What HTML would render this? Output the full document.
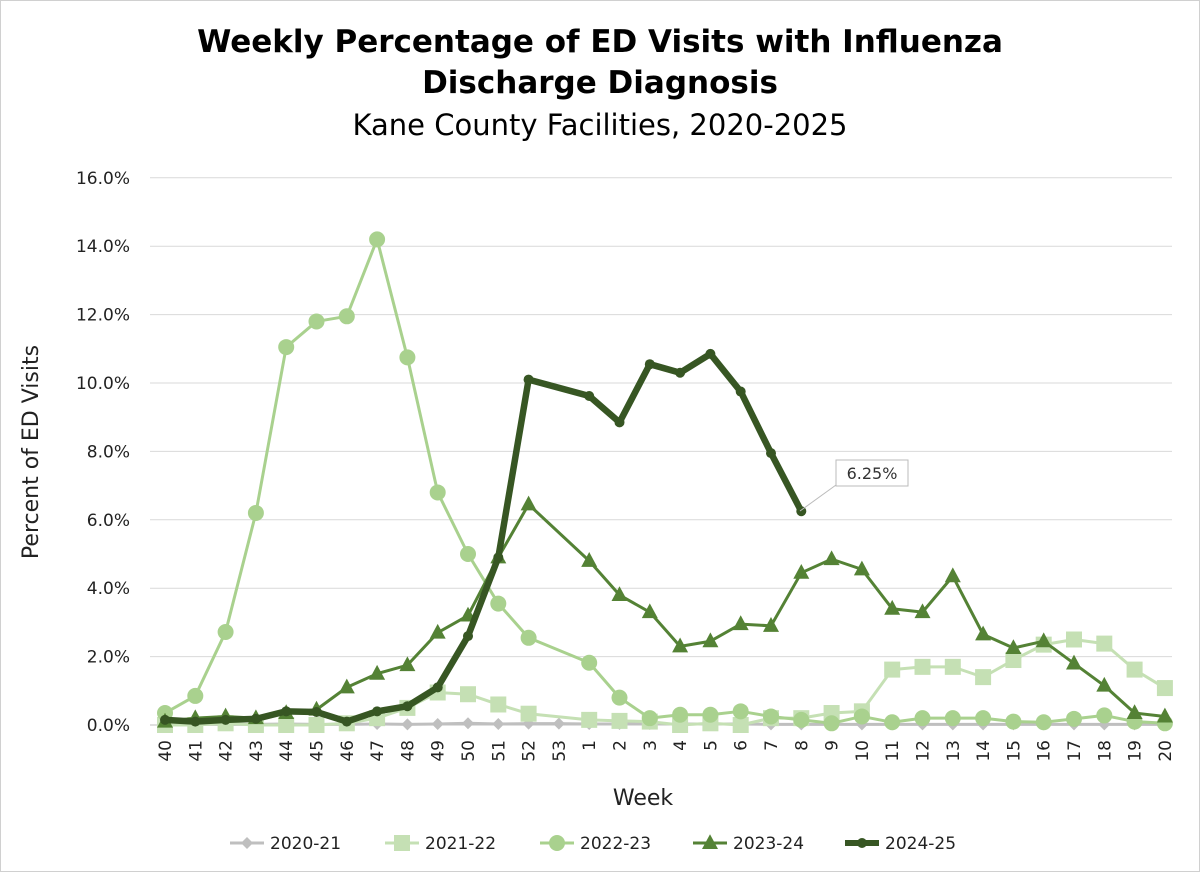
<!DOCTYPE html>
<html><head><meta charset="utf-8"><style>
html,body{margin:0;padding:0;background:#fff;}
svg{display:block;font-family:"DejaVu Sans","Liberation Sans",sans-serif;}
</style></head><body>
<svg id="chart" width="1200" height="872" viewBox="0 0 1200 872">
<rect x="0.5" y="0.5" width="1199" height="871" fill="#fff" stroke="#d0d0d0"/>
<text x="600" y="52" text-anchor="middle" font-size="31" font-weight="bold" fill="#000">Weekly Percentage of ED Visits with Influenza</text>
<text x="600" y="93" text-anchor="middle" font-size="31" font-weight="bold" fill="#000">Discharge Diagnosis</text>
<text x="600" y="135" text-anchor="middle" font-size="29" fill="#000">Kane County Facilities, 2020-2025</text>
<g id="grid"></g><g id="yticks"></g><g id="xticks"></g><g id="series"></g>
<text transform="translate(38,452) rotate(-90)" text-anchor="middle" font-size="22" fill="#222">Percent of ED Visits</text>
<text x="643" y="805" text-anchor="middle" font-size="22" fill="#222">Week</text>
<g id="legend"></g>
<g>
<line x1="800" y1="511" x2="836" y2="485" stroke="#bbb" stroke-width="1"/>
<rect x="836" y="460" width="72" height="26" fill="#fff" stroke="#bbb"/>
<text x="872" y="479" text-anchor="middle" font-size="16" fill="#333">6.25%</text>
</g>
</svg>
<script>
const categories=["40","41","42","43","44","45","46","47","48","49","50","51","52","53","1","2","3","4","5","6","7","8","9","10","11","12","13","14","15","16","17","18","19","20"];
const yTicks=[0,2,4,6,8,10,12,14,16];
const s2020=[0.02,0.02,0.02,0.02,0.03,0.02,0.02,0.03,0.02,0.03,0.05,0.03,0.04,0.04,0.03,0.03,0.03,0.03,0.03,0.03,0.02,0.02,0.02,0.02,0.02,0.02,0.02,0.02,0.02,0.02,0.02,0.02,0.02,0.02];
const s2021=[0.0,0.0,0.05,-0.05,-0.05,0.0,0.05,0.2,0.5,0.95,0.9,0.6,0.33,null,0.15,0.12,0.1,-0.05,0.05,-0.05,0.2,0.2,0.35,0.4,1.62,1.7,1.7,1.4,1.9,2.35,2.5,2.38,1.62,1.08];
const s2022=[0.35,0.85,2.72,6.2,11.05,11.8,11.95,14.2,10.75,6.8,5.0,3.55,2.55,null,1.82,0.8,0.2,0.3,0.3,0.4,0.25,0.15,0.05,0.25,0.08,0.2,0.2,0.2,0.1,0.08,0.18,0.28,0.1,0.05];
const s2023=[0.1,0.2,0.25,0.2,0.35,0.45,1.1,1.5,1.75,2.7,3.2,4.9,6.45,null,4.8,3.8,3.3,2.3,2.45,2.95,2.9,4.45,4.85,4.55,3.4,3.3,4.35,2.65,2.25,2.45,1.8,1.15,0.35,0.25];
const s2024=[0.15,0.1,0.15,0.18,0.4,0.38,0.1,0.4,0.55,1.1,2.6,4.9,10.1,null,9.62,8.85,10.55,10.3,10.85,9.75,7.95,6.25];
const seriesNames=["2020-21","2021-22","2022-23","2023-24","2024-25"];
const NS="http://www.w3.org/2000/svg";
const x0=165,xStep=30.3,y0=725,yPer=34.2;
const X=i=>x0+i*xStep, Y=v=>y0-v*yPer;
function mk(t,a,p){const e=document.createElementNS(NS,t);for(const k in a)e.setAttribute(k,a[k]);p.appendChild(e);return e;}
const grid=document.getElementById('grid'),yt=document.getElementById('yticks'),xt=document.getElementById('xticks');
yTicks.forEach(v=>{
 const l=mk('line',{x1:150,x2:1172,y1:Y(v),y2:Y(v),stroke:v===0?'#bfbfbf':'#d9d9d9','stroke-width':1},grid);
 
 
 const t=mk('text',{x:130,y:Y(v)+6,'text-anchor':'end','font-size':17,fill:'#222'},yt);
 t.textContent=v.toFixed(1)+'%';
 
 
});
categories.forEach((c,i)=>{
 const t=mk('text',{transform:`translate(${X(i)+6},740) rotate(-90)`,'text-anchor':'end','font-size':17,fill:'#222'},xt);
 t.textContent=c;
 
 
});
const ser=document.getElementById('series');
function marker(g,type,x,y,col,sz){
 let m;
 if(type==='diamond')m=mk('polygon',{points:`${x},${y-sz} ${x+sz},${y} ${x},${y+sz} ${x-sz},${y}`,fill:col},g);
 else if(type==='square')m=mk('rect',{x:x-sz,y:y-sz,width:2*sz,height:2*sz,fill:col},g);
 else if(type==='circle')m=mk('circle',{cx:x,cy:y,r:sz,fill:col},g);
 else m=mk('polygon',{points:`${x},${y-sz*1.1} ${x+sz},${y+sz*0.75} ${x-sz},${y+sz*0.75}`,fill:col},g);
 return m;
}
function draw(data,name,col,w,type,sz){
 const g=mk('g',{},ser);
 
 
 const pts=[];data.forEach((v,i)=>{if(v!==null)pts.push([X(i),Y(Math.max(v,0))]);});
 const p=mk('polyline',{points:pts.map(p=>p.join(',')).join(' '),fill:'none',stroke:col,'stroke-width':w,'stroke-linejoin':'round'},g);
 
 
 pts.forEach(pt=>{const m=marker(g,type,pt[0],pt[1],col,sz);
  
  });
}
const cols=['#bfbfbf','#c5e0b4','#a9d18e','#548235','#375623'];
draw(s2020,'2020-21',cols[0],3,'diamond',6);
draw(s2021,'2021-22',cols[1],3,'square',8);
draw(s2022,'2022-23',cols[2],3,'circle',8);
draw(s2023,'2023-24',cols[3],3,'triangle',8);
draw(s2024,'2024-25',cols[4],6.5,'circle',5);
const lg=document.getElementById('legend');
const types=['diamond','square','circle','triangle','circle'],lx=[230,385,540,693,845],sizes=[6,8,8,8,5],ws=[3,3,3,3,6];
seriesNames.forEach((n,i)=>{
 const g=mk('g',{},lg);
 
 
 mk('line',{x1:lx[i],x2:lx[i]+34,y1:843,y2:843,stroke:cols[i],'stroke-width':ws[i]},g);
 marker(g,types[i],lx[i]+17,843,cols[i],sizes[i]);
 const t=mk('text',{x:lx[i]+40,y:849,'font-size':17,fill:'#222'},g);
 t.textContent=n;
});
</script>
</body></html>
